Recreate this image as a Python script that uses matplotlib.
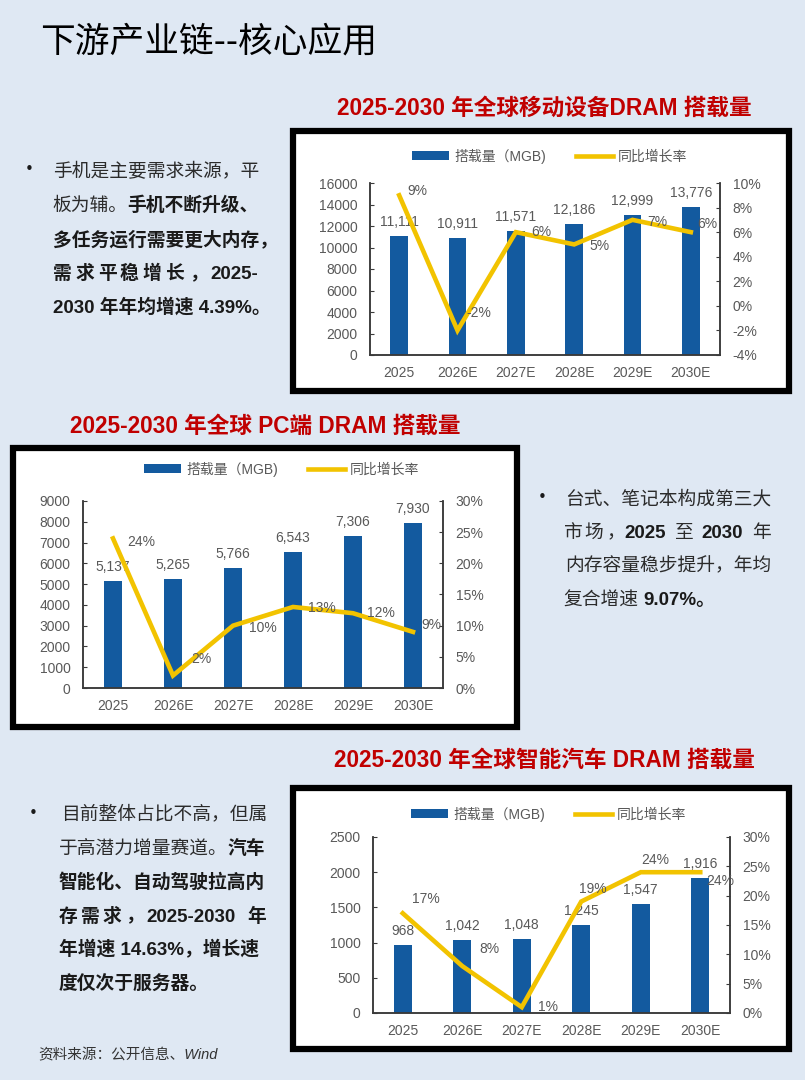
import numpy as np
import matplotlib
matplotlib.use('Agg')
import matplotlib.pyplot as plt
from matplotlib import font_manager
from matplotlib.ft2font import FT2Font
from matplotlib.patches import Rectangle, Patch
from matplotlib.lines import Line2D
from matplotlib.ticker import FuncFormatter

try:
    from matplotlib.ft2font import LoadFlags
    NOHINT = LoadFlags.NO_HINTING
except ImportError:
    from matplotlib.ft2font import LOAD_NO_HINTING as NOHINT

# ---- data ----
years = ['2025', '2026E', '2027E', '2028E', '2029E', '2030E']

mobile_mgb = [11111, 10911, 11571, 12186, 12999, 13776]
mobile_yoy = [9, -2, 6, 5, 7, 6]
pc_mgb = [5137, 5265, 5766, 6543, 7306, 7930]
pc_yoy = [24, 2, 10, 13, 12, 9]
auto_mgb = [968, 1042, 1048, 1245, 1547, 1916]
auto_yoy = [17, 8, 1, 19, 24, 24]

legend_labels = ['搭载量（MGB)', '同比增长率']
page_title = '下游产业链--核心应用'
chart_titles = ['2025-2030 年全球移动设备DRAM 搭载量',
                '2025-2030 年全球 PC端 DRAM 搭载量',
                '2025-2030 年全球智能汽车 DRAM 搭载量']
source = '资料来源：公开信息、Wind'

# (text, bold) pieces per line
text_mobile = [
    [('手机是主要需求来源，平', False)],
    [('板为辅。', False), ('手机不断升级、', True)],
    [('多任务运行需要更大内存，', True)],
    [('需求平稳增长，2025-', True)],
    [('2030 年年均增速 4.39%。', True)],
]
text_pc = [
    [('台式、笔记本构成第三大', False)],
    [('市场，', False), ('2025', True), (' 至 ', False), ('2030', True), (' 年', False)],
    [('内存容量稳步提升，年均', False)],
    [('复合增速 ', False), ('9.07%。', True)],
]
text_auto = [
    [('目前整体占比不高，但属', False)],
    [('于高潜力增量赛道。', False), ('汽车', True)],
    [('智能化、自动驾驶拉高内', True)],
    [('存需求，2025-2030 年', True)],
    [('年增速 14.63%，增长速', True)],
    [('度仅次于服务器。', True)],
]

# where each % label sits relative to its point (pixels, right / down)
mobile_lbl_off = [(18, -4), (21, -17), (25, 0), (25, 2), (25, 2), (16, -8)]
pc_lbl_off = [(28, 4), (28, -17), (30, 2), (29, 1), (28, 0), (18, -7)]
auto_lbl_off = [(23, -14), (27, -17), (26, 0), (12, -13), (14, -12), (20, 9)]

# ---- style ----
W, H = 805, 1080
BG = '#dfe8f3'
BLUE = '#135a9f'
GOLD = '#f2c300'
GREY = '#595959'
RED = '#c00000'
INK = '#1a1a1a'
LATIN = 'Liberation Sans'
CJK = 'Noto Sans CJK SC'
plt.rcParams['font.family'] = [LATIN, CJK]


def fx(x):
    return x / W


def fy(y):
    return 1 - y / H


fig = plt.figure(figsize=(W / 100, H / 100), dpi=100, facecolor=BG)

# glyph metrics so mixed bold / regular pieces line up like real text
_fonts = {}


def is_cjk(c):
    return ord(c) > 0x2000


def ft(bold, cjk, size):
    key = (bold, cjk)
    if key not in _fonts:
        path = font_manager.findfont(font_manager.FontProperties(
            family=CJK if cjk else LATIN, weight='bold' if bold else 'normal'))
        _fonts[key] = FT2Font(path)
    f = _fonts[key]
    f.set_size(size, 100)
    return f


def advance(s, bold, size):
    w = 0
    for c in s:
        g = ft(bold, is_cjk(c), size).load_char(ord(c), flags=NOHINT)
        w += g.linearHoriAdvance / 65536
    return w


def bearing(c, bold, size):
    g = ft(bold, is_cjk(c), size).load_char(ord(c), flags=NOHINT)
    return g.horiBearingX / 64


def rich_line(x, y, parts, size=13.5, width=None):
    toks = []
    for s, b in parts:
        if width is None:
            toks.append((s, b))
            continue
        run = ''
        for c in s:
            if is_cjk(c) or c == ' ':
                if run:
                    toks.append((run, b))
                    run = ''
                toks.append((c, b))
            else:
                run += c
        if run:
            toks.append((run, b))
    advs = [advance(s, b, size) for s, b in toks]
    gap = 0
    if width is not None and len(toks) > 1:
        gap = (width - sum(advs)) / (len(toks) - 1)
    base = y + 0.36 * size * 100 / 72
    pen = x
    for (s, b), a in zip(toks, advs):
        st = s.lstrip(' ')
        if st:
            px = pen + advance(s[:len(s) - len(st)], b, size) + bearing(st[0], b, size)
            fig.text(fx(px), fy(base), st.rstrip(' '), fontsize=size,
                     fontweight='bold' if b else 'normal', ha='left',
                     va='baseline', color=INK if b else '#2b2b2b')
        pen += a + gap


def text_block(bx, x, y0, step, lines, widths):
    fig.text(fx(bx), fy(y0), '•', fontsize=11, ha='center', va='center',
             color=INK, family='DejaVu Sans')
    for i, parts in enumerate(lines):
        rich_line(x, y0 + i * step, parts, width=widths[i])


def chart(frame, axbox, leg_xy, title, title_xy, vals, yoy, lbl_off,
          ymax, ystep, rmin, rmax, rstep):
    x0, y0, x1, y1 = frame
    fig.add_artist(Rectangle((fx(x0 + 3), fy(y1 - 3)), (x1 - x0 - 6) / W, (y1 - y0 - 6) / H,
                             transform=fig.transFigure, facecolor='white',
                             edgecolor='black', lw=4.5, zorder=-1))
    fig.text(fx(title_xy[0]), fy(title_xy[1]), title, fontsize=16.3, fontweight='bold',
             color=RED, ha='center', va='center')

    l, r, t, b = axbox
    ax = fig.add_axes([fx(l), fy(b), (r - l) / W, (b - t) / H])
    ax.set_facecolor('none')
    x = np.arange(len(years))
    ax.bar(x, vals, width=0.3, color=BLUE, zorder=2)
    for xi, v in zip(x, vals):
        ax.annotate(f'{v:,}', (xi, v), xytext=(0, 7), textcoords='offset pixels',
                    ha='center', va='bottom', fontsize=10, color=GREY)
    ax.set_xlim(-0.5, len(years) - 0.5)
    ax.set_ylim(0, ymax)
    ax.set_yticks(np.arange(0, ymax + 1, ystep))
    ax.set_xticks(x)
    ax.set_xticklabels(years)
    ax.tick_params(axis='x', length=0, pad=8, labelsize=10, labelcolor=GREY)
    ax.tick_params(axis='y', direction='in', length=3, pad=9, labelsize=10,
                   labelcolor=GREY, color='#3a3a3a')

    ax2 = ax.twinx()
    ax2.plot(x, yoy, color=GOLD, lw=3.3, solid_joinstyle='miter', zorder=3)
    for xi, p, (dx, dy) in zip(x, yoy, lbl_off):
        ax2.annotate(f'{p}%', (xi, p), xytext=(dx, -dy), textcoords='offset pixels',
                     ha='center', va='center', fontsize=10, color=GREY)
    ax2.set_ylim(rmin, rmax)
    ax2.set_yticks(np.arange(rmin, rmax + 1, rstep))
    ax2.yaxis.set_major_formatter(FuncFormatter(lambda v, _: f'{v:.0f}%'))
    ax2.tick_params(axis='y', direction='in', length=3, pad=9, labelsize=10,
                    labelcolor=GREY, color='#3a3a3a')

    for a in (ax, ax2):
        a.spines['top'].set_visible(False)
        for s in ('left', 'right', 'bottom'):
            a.spines[s].set_color('#3a3a3a')
            a.spines[s].set_linewidth(1.1)

    handles = [Patch(facecolor=BLUE), Line2D([], [], color=GOLD, lw=3.3)]
    fig.legend(handles, legend_labels, loc='center',
               bbox_to_anchor=(fx(leg_xy[0]), fy(leg_xy[1])), ncol=2, frameon=False,
               fontsize=10, handlelength=2.6, handleheight=0.6, handletextpad=0.4,
               columnspacing=2.2, labelcolor=GREY)


fig.text(fx(40), fy(42), page_title, fontsize=25, color='black', ha='left',
         va='center', family=CJK)

chart((290, 128, 792, 394), (370, 720, 183, 355), (550, 156), chart_titles[0], (544, 108),
      mobile_mgb, mobile_yoy, mobile_lbl_off, 16000, 2000, -4, 10, 2)
chart((10, 445, 520, 730), (83, 443, 501, 688), (282, 469), chart_titles[1], (265, 426),
      pc_mgb, pc_yoy, pc_lbl_off, 9000, 1000, 0, 30, 5)
chart((290, 785, 792, 1052), (373, 730, 837, 1013), (549, 814), chart_titles[2], (544, 760),
      auto_mgb, auto_yoy, auto_lbl_off, 2500, 500, 0, 30, 5)

text_block(29, 52, 170, 34, text_mobile, [None, None, None, 206, None])
text_block(542, 563, 498, 33.5, text_pc, [None, 207, None, None])
text_block(33, 58, 813, 34, text_auto, [None, None, None, 207, None, None])

fig.text(fx(38), fy(1055), source, fontsize=10.5, style='italic', color='#333333',
         ha='left', va='center')

fig.savefig('out.png', dpi=100, facecolor=BG)
